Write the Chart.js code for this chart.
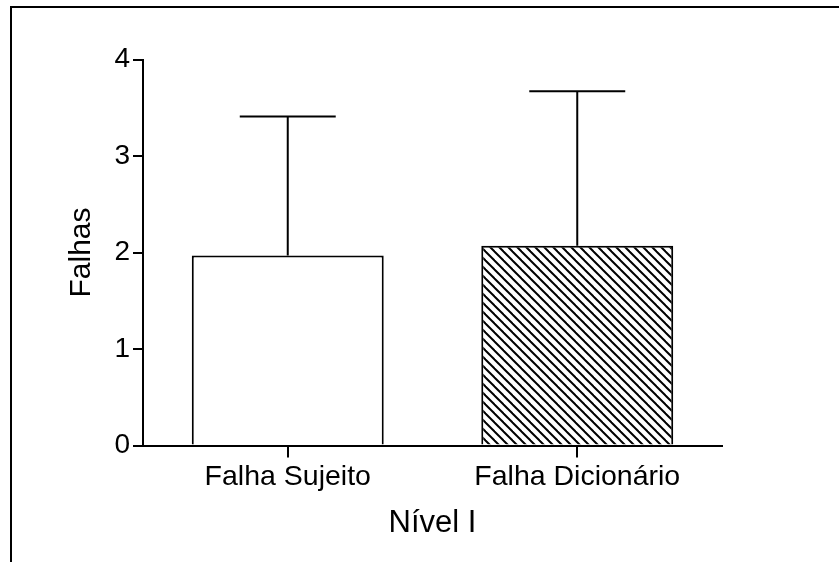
<!DOCTYPE html>
<html>
<head>
<meta charset="utf-8">
<script src="https://cdn.jsdelivr.net/npm/chart.js@4/dist/chart.umd.min.js"></script>
<style>
  html, body { margin: 0; padding: 0; background: #fff; }
  canvas { display: block; }
</style>
</head>
<body>
<canvas id="c" width="839" height="562"></canvas>
<script>
// ---- data ----
const categories = ['Falha Sujeito', 'Falha Dicionário'];
const means = [1.97, 2.07];
const sdUpper = [1.44, 1.60];
const yTickValues = [0, 1, 2, 3, 4];
const yTitle = 'Falhas';
const xTitle = 'Nível I';

// ---- hatch pattern ----
function makeHatch() {
  const s = 9;
  const c = document.createElement('canvas');
  c.width = s; c.height = s;
  const g = c.getContext('2d');
  g.fillStyle = '#fff';
  g.fillRect(0, 0, s, s);
  g.strokeStyle = '#000';
  g.lineWidth = 2;
  for (const o of [-s, 0, s]) {
    g.beginPath();
    g.moveTo(o - 1, -1);
    g.lineTo(o + s + 1, s + 1);
    g.stroke();
  }
  const ctx = document.getElementById('c').getContext('2d');
  return ctx.createPattern(c, 'repeat');
}
const hatch = makeHatch();

const FONT = "'Liberation Sans', Arial, Helvetica, sans-serif";

const framePlugin = {
  id: 'frame',
  beforeDraw(chart) {
    const ctx = chart.ctx;
    ctx.save();
    ctx.fillStyle = '#fff';
    ctx.fillRect(0, 0, chart.width, chart.height);
    ctx.strokeStyle = '#000';
    ctx.lineWidth = 2;
    ctx.beginPath();
    ctx.moveTo(11, chart.height);
    ctx.lineTo(11, 7);
    ctx.lineTo(chart.width, 7);
    ctx.stroke();
    ctx.restore();
  }
};

const errorBarPlugin = {
  id: 'errorBars',
  afterDatasetsDraw(chart) {
    const ctx = chart.ctx;
    const yScale = chart.scales.y;
    const meta = chart.getDatasetMeta(0);
    ctx.save();
    ctx.strokeStyle = '#000';
    ctx.lineWidth = 2;
    meta.data.forEach((bar, i) => {
      const top = yScale.getPixelForValue(means[i] + sdUpper[i]);
      const half = bar.width / 4;
      ctx.beginPath();
      ctx.moveTo(bar.x, bar.y);
      ctx.lineTo(bar.x, top);
      ctx.moveTo(bar.x - half, top);
      ctx.lineTo(bar.x + half, top);
      ctx.stroke();
    });
    ctx.restore();
  }
};

new Chart(document.getElementById('c'), {
  type: 'bar',
  data: {
    labels: categories,
    datasets: [{
      data: means,
      backgroundColor: ['#ffffff', hatch],
      borderColor: '#000',
      borderWidth: 2,
      borderSkipped: 'bottom',
      barPercentage: 0.663,
      categoryPercentage: 1.0
    }]
  },
  options: {
    responsive: false,
    animation: false,
    events: [],
    layout: { padding: { top: 59.5, right: 117, bottom: 0, left: 0 } },
    plugins: {
      legend: { display: false },
      tooltip: { enabled: false },
      title: { display: false }
    },
    scales: {
      x: {
        type: 'category',
        afterFit(scale) { scale.height = 116.5; },
        grid: {
          offset: false,
          drawOnChartArea: false,
          drawTicks: true,
          tickLength: 12,
          color: '#000',
          lineWidth: 2
        },
        border: { display: true, color: '#000', width: 2 },
        ticks: {
          color: '#000',
          padding: 3,
          font: { family: FONT, size: 28.5 }
        },
        title: {
          display: true,
          text: xTitle,
          color: '#000',
          padding: { top: 0, bottom: 20 },
          font: { family: FONT, size: 31 }
        }
      },
      y: {
        min: 0,
        max: 4,
        afterFit(scale) { scale.width = 143; },
        afterBuildTicks(scale) { scale.ticks = yTickValues.map(v => ({ value: v })); },
        grid: {
          drawOnChartArea: false,
          drawTicks: true,
          tickLength: 10,
          color: '#000',
          lineWidth: 2
        },
        border: { display: true, color: '#000', width: 2 },
        ticks: {
          color: '#000',
          padding: 3,
          font: { family: FONT, size: 28 }
        },
        title: {
          display: true,
          text: yTitle,
          color: '#000',
          padding: { top: 64, bottom: 0 },
          font: { family: FONT, size: 30 }
        }
      }
    }
  },
  plugins: [framePlugin, errorBarPlugin]
});
</script>
</body>
</html>
